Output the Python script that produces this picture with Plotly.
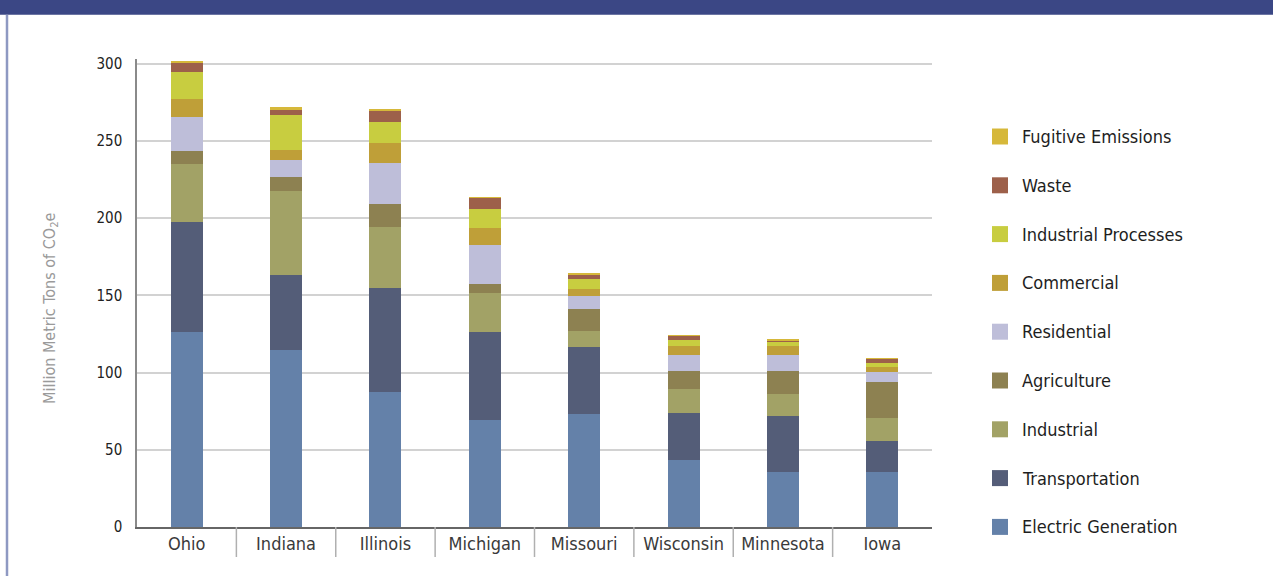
import plotly.graph_objects as go

states = ["Ohio", "Indiana", "Illinois", "Michigan", "Missouri", "Wisconsin", "Minnesota", "Iowa"]

electric_generation = [126.0, 114.3, 87.1, 69.0, 72.9, 43.1, 35.9, 35.3]
transportation = [71.2, 48.6, 67.4, 57.0, 43.4, 30.4, 35.7, 20.1]
industrial = [37.6, 54.4, 39.5, 25.2, 10.3, 15.6, 14.2, 14.9]
agriculture = [8.4, 9.1, 14.9, 5.9, 14.3, 11.6, 14.9, 23.9]
residential = [22.0, 11.0, 26.5, 25.2, 8.4, 10.4, 10.4, 5.9]
commercial = [11.7, 6.4, 13.0, 11.0, 4.5, 6.4, 6.4, 3.8]
industrial_processes = [17.5, 22.7, 13.6, 12.3, 6.5, 3.3, 2.6, 2.6]
waste = [6.4, 3.3, 7.1, 7.8, 3.2, 3.2, 0.7, 2.6]
fugitive_emissions = [0.7, 2.0, 1.3, 0.2, 0.7, 0.2, 0.3, 0.3]

series_names = ["Electric Generation", "Transportation", "Industrial", "Agriculture",
                "Residential", "Commercial", "Industrial Processes", "Waste",
                "Fugitive Emissions"]
series_values = [electric_generation, transportation, industrial, agriculture,
                 residential, commercial, industrial_processes, waste, fugitive_emissions]
series_colors = ["#6481a9", "#545d78", "#a2a266", "#8d8151", "#bebed9",
                 "#bf9f38", "#c8cd40", "#9d604a", "#d6b83a"]

y_ticks = [0, 50, 100, 150, 200, 250, 300]

FONT = "Liberation Sans Narrow, Arial Narrow, Noto Sans Condensed, DejaVu Sans Condensed, sans-serif"

# layout geometry (pixels)
W, H = 1273, 576
L, R, T, B = 137, 341, 59, 49
PW = W - L - R
PH = H - T - B


def px(xp):
    return (xp - L) / PW


def py(yp):
    return (H - B - yp) / PH


fig = go.Figure()
for name, vals, col in zip(series_names, series_values, series_colors):
    fig.add_trace(go.Bar(x=states, y=vals, name=name, marker=dict(color=col, line=dict(width=0)),
                         showlegend=False))

shapes = []
annotations = []

# category separator ticks below x axis
for i in range(len(states) - 1):
    shapes.append(dict(type="line", xref="x", yref="paper", x0=i + 0.5, x1=i + 0.5,
                       y0=0, y1=-30 / PH, line=dict(color="#b0b0b0", width=1.5)))

# manual legend (top to bottom = reversed stacking order)
row0, gap = 136.5, 48.8
for k, idx in enumerate(reversed(range(len(series_names)))):
    yc = row0 + gap * k
    shapes.append(dict(type="rect", xref="paper", yref="paper",
                       x0=px(992), x1=px(1008), y0=py(yc + 8), y1=py(yc - 8),
                       fillcolor=series_colors[idx], line=dict(width=0)))
    annotations.append(dict(xref="paper", yref="paper", x=px(1020), y=py(yc),
                            xanchor="left", yanchor="middle", showarrow=False,
                            text=series_names[idx],
                            font=dict(family=FONT, size=18, color="#1e1e1e")))

# header band and left border
shapes.append(dict(type="rect", xref="paper", yref="paper", x0=px(0), x1=px(W),
                   y0=py(14.7), y1=py(-2), fillcolor="#3b4785", line=dict(width=0), layer="above"))
shapes.append(dict(type="line", xref="paper", yref="paper", x0=px(7), x1=px(7),
                   y0=py(14.7), y1=py(H + 2), line=dict(color="#8e99c2", width=2.5)))

# y-axis title
annotations.append(dict(xref="paper", yref="paper", x=px(50), y=py(308),
                        xanchor="center", yanchor="middle", showarrow=False, textangle=-90,
                        text="Million Metric Tons of CO<sub>2</sub>e",
                        font=dict(family=FONT, size=16, color="#9a9a9a")))

fig.update_layout(
    width=W, height=H,
    margin=dict(l=L, r=R, t=T, b=B, pad=0),
    barmode="stack",
    bargap=0.678,
    plot_bgcolor="white",
    paper_bgcolor="white",
    shapes=shapes,
    annotations=annotations,
    font=dict(family=FONT),
)

fig.update_xaxes(
    range=[-0.5, len(states) - 0.5],
    showline=True, linecolor="#666666", linewidth=1.5,
    ticks="",
    tickfont=dict(family=FONT, size=18, color="#3a3a3a"),
    showgrid=False, zeroline=False,
)
fig.update_yaxes(
    range=[0, 303],
    tickvals=y_ticks, ticktext=[str(v) for v in y_ticks],
    showline=True, linecolor="#8a8a8a", linewidth=1.5,
    ticks="outside", ticklen=10, tickcolor="rgba(0,0,0,0)",
    tickfont=dict(family=FONT, size=15, color="#222222"),
    showgrid=True, gridcolor="#d2d2d2", gridwidth=1.5,
    zeroline=False,
)

fig.write_html(
    "out.html",
    config={"displayModeBar": False},
    post_script="document.body.style.margin='0';document.body.style.overflow='hidden';",
)
